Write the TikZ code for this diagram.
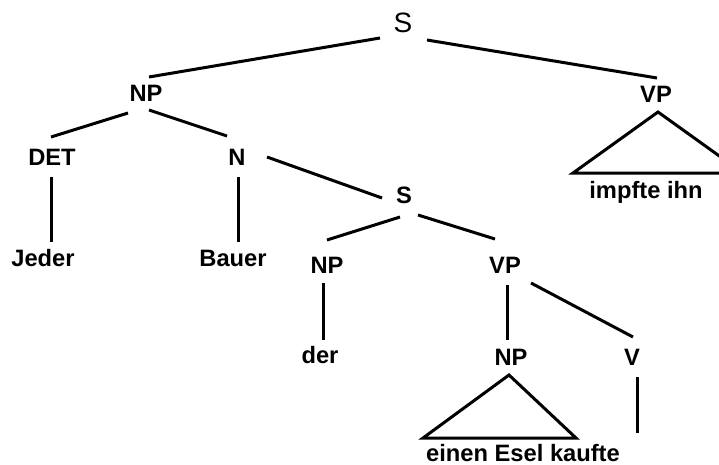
\documentclass[tikz,border=0pt]{standalone}
\usepackage{fontspec}
\setmainfont{Liberation Sans}
\begin{document}
\begin{tikzpicture}[x=1pt,y=-1pt,
  lbl/.style={font=\fontsize{23.7}{28}\selectfont\bfseries, inner sep=0pt, anchor=base},
  toplbl/.style={font=\fontsize{28}{32}\selectfont, inner sep=0pt, anchor=base},
  edge/.style={line width=3pt}]
\useasboundingbox (0,0) rectangle (719,465);
% labels
\node[toplbl] (s0) at (403,33) {S};
\node[lbl] (np1) at (146,102) {NP};
\node[lbl] (vp1) at (656,102.5) {VP};
\node[lbl] (det) at (52,165) {DET};
\node[lbl] (n) at (237,165) {N};
\node[lbl] (impf) at (646,198) {impfte ihn};
\node[lbl] (jeder) at (43,266) {Jeder};
\node[lbl] (bauer) at (233,266) {Bauer};
\node[lbl] (s1) at (404,203) {S};
\node[lbl] (np2) at (327,273) {NP};
\node[lbl] (vp2) at (505,273) {VP};
\node[lbl] (der) at (320,363) {der};
\node[lbl] (np3) at (511,365) {NP};
\node[lbl] (v) at (632,365) {V};
\node[lbl] (esel) at (523,461) {einen Esel kaufte};
% connector ends
\coordinate (s0l) at (380,38);   \coordinate (np1t) at (149,77);
\coordinate (s0r) at (427,40);   \coordinate (vp1t) at (657,78);
\coordinate (np1l) at (128,113); \coordinate (dett) at (51,137);
\coordinate (np1r) at (149,110); \coordinate (nt) at (227,136);
\coordinate (detb) at (51,177);  \coordinate (jedert) at (51,242);
\coordinate (nb) at (238,177);   \coordinate (bauert) at (238,242);
\coordinate (nr) at (267,157);   \coordinate (s1t) at (382,198);
\coordinate (s1l) at (400,217);  \coordinate (np2t) at (327,240);
\coordinate (s1r) at (418,215);  \coordinate (vp2t) at (495,239);
\coordinate (np2b) at (323,283); \coordinate (dert) at (323,340);
\coordinate (vp2b) at (507,285); \coordinate (np3t) at (507,340);
\coordinate (vp2r) at (531,283); \coordinate (vt) at (633,337);
\coordinate (vb) at (637,377);   \coordinate (vend) at (637,433);
\coordinate (t1a) at (658,112); \coordinate (t1l) at (573,173); \coordinate (t1r) at (743,173);
\coordinate (t2a) at (509,375); \coordinate (t2l) at (423,438); \coordinate (t2r) at (576,438);
% connectors
\draw[edge] (s0l) -- (np1t);
\draw[edge] (s0r) -- (vp1t);
\draw[edge] (np1l) -- (dett);
\draw[edge] (np1r) -- (nt);
\draw[edge] (detb) -- (jedert);
\draw[edge] (nb) -- (bauert);
\draw[edge] (nr) -- (s1t);
\draw[edge] (s1l) -- (np2t);
\draw[edge] (s1r) -- (vp2t);
\draw[edge] (np2b) -- (dert);
\draw[edge] (vp2b) -- (np3t);
\draw[edge] (vp2r) -- (vt);
\draw[edge] (vb) -- (vend);
\draw[edge] (t1a) -- (t1l) -- (t1r) -- cycle;
\draw[edge] (t2a) -- (t2l) -- (t2r) -- cycle;
\end{tikzpicture}
\end{document}
